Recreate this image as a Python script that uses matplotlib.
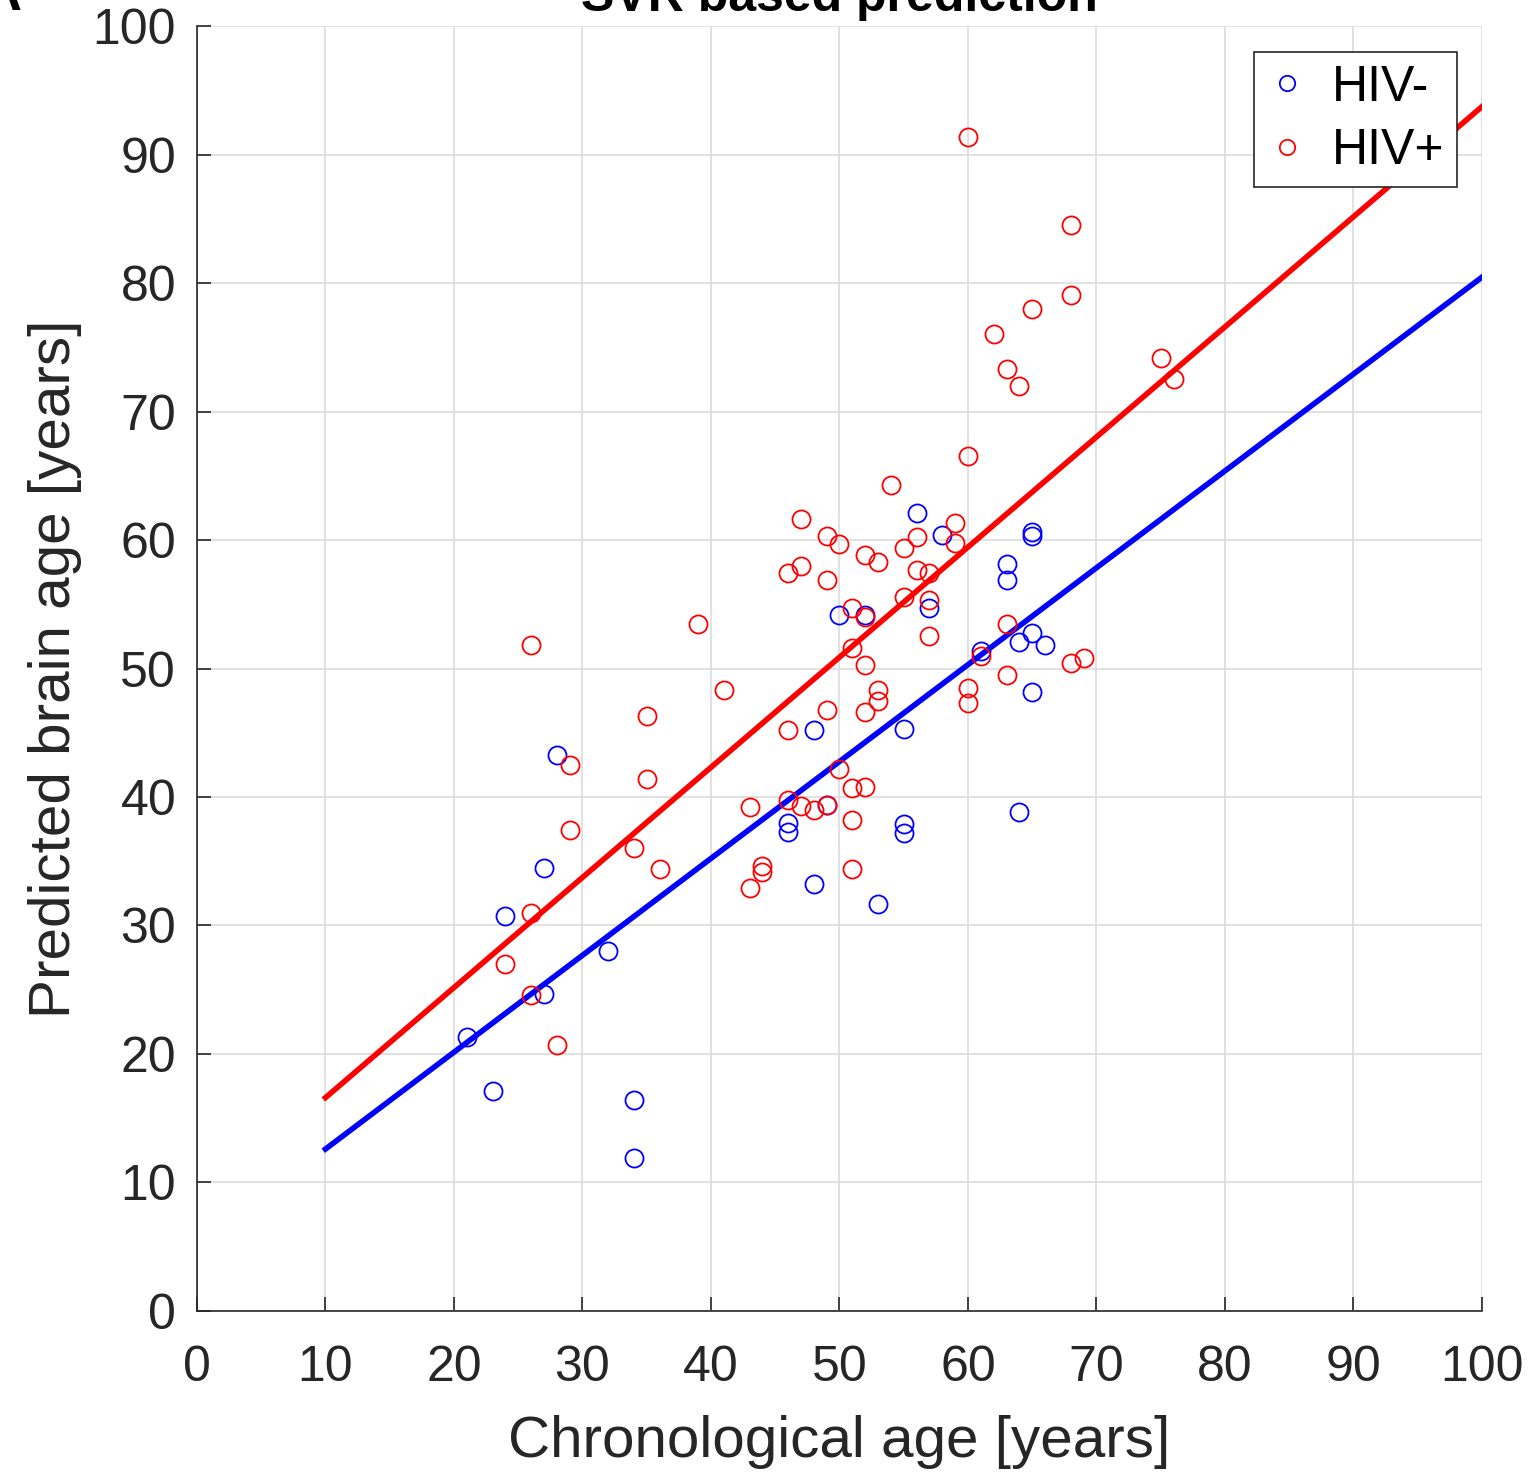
import matplotlib
matplotlib.use('Agg')
import matplotlib.pyplot as plt
import numpy as np

plt.rcParams['font.family'] = ['Liberation Sans', 'DejaVu Sans']

# HIV- (controls): chronological age, predicted brain age
neg_age = [56, 58, 65, 65, 63, 63, 50, 52, 57, 64, 65, 66, 61, 65, 48, 55, 28,
           49, 46, 46, 55, 55, 64, 27, 48, 53, 24, 32, 27, 21, 23, 34, 34]
neg_pred = [62.1, 60.4, 60.6, 60.3, 58.1, 56.9, 54.2, 54.2, 54.7, 52.1, 52.8, 51.8,
            51.4, 48.2, 45.2, 45.3, 43.3, 39.4, 38.0, 37.3, 37.9, 37.2, 38.8, 34.5,
            33.2, 31.7, 30.7, 28.0, 24.7, 21.3, 17.1, 16.4, 11.9]

# HIV+ (patients)
pos_age = [60, 68, 68, 65, 62, 63, 64, 75, 76, 60, 54, 47, 59, 49, 50, 56, 59, 55,
           52, 53, 47, 46, 56, 57, 49, 55, 57, 51, 52, 39, 63, 26, 57, 51, 61, 52,
           68, 69, 63, 41, 53, 53, 60, 60, 49, 52, 35, 46, 29, 35, 50, 46, 47, 43,
           48, 49, 51, 52, 51, 29, 34, 44, 44, 36, 51, 43, 26, 24, 26, 28]
pos_pred = [91.4, 84.5, 79.1, 78.0, 76.0, 73.3, 72.0, 74.2, 72.5, 66.5, 64.3, 61.6,
            61.3, 60.3, 59.7, 60.2, 59.8, 59.4, 58.8, 58.3, 58.0, 57.4, 57.7, 57.4,
            56.9, 55.6, 55.3, 54.7, 54.0, 53.5, 53.5, 51.8, 52.5, 51.6, 51.0, 50.3,
            50.4, 50.8, 49.5, 48.3, 48.3, 47.5, 48.5, 47.3, 46.8, 46.6, 46.3, 45.2,
            42.5, 41.4, 42.2, 39.8, 39.3, 39.2, 39.0, 39.4, 40.7, 40.8, 38.2, 37.4,
            36.0, 34.6, 34.2, 34.4, 34.4, 32.9, 31.0, 27.0, 24.6, 20.7]

# linear fits (slope, intercept) drawn over the age range
fit_range = [10, 100]
neg_fit = (0.754, 5.06)
pos_fit = (0.857, 8.03)

fig = plt.figure(figsize=(15.34, 14.72), dpi=100)
ax = fig.add_axes([0.1284, 0.1094, 0.8377, 0.8729])

xs = np.array(fit_range)
ax.plot(xs, neg_fit[0] * xs + neg_fit[1], color='#0000ff', lw=4, zorder=3)
ax.plot(xs, pos_fit[0] * xs + pos_fit[1], color='#ff0000', lw=4, zorder=3)

ax.plot(neg_age, neg_pred, 'o', mfc='none', mec='#0000ff', ms=13, mew=1.3,
        label='HIV-', zorder=4)
ax.plot(pos_age, pos_pred, 'o', mfc='none', mec='#ff0000', ms=13, mew=1.3,
        label='HIV+', zorder=4)

ax.set_xlim(0, 100)
ax.set_ylim(0, 100)
ax.set_xticks(range(0, 101, 10))
ax.set_yticks(range(0, 101, 10))
ax.grid(True, color='#dcdcdc', lw=1.2)
ax.set_axisbelow(True)
for s in ['top', 'right']:
    ax.spines[s].set_visible(False)
for s in ['left', 'bottom']:
    ax.spines[s].set_linewidth(1.2)
    ax.spines[s].set_color('#262626')
ax.tick_params(direction='in', length=10, width=1.2, labelsize=36,
               colors='#262626', labelcolor='#262626')
ax.tick_params(axis='x', pad=24.5)
ax.tick_params(axis='y', pad=15)

ax.set_xlabel('Chronological age [years]', fontsize=42, color='#262626', labelpad=17)
ax.set_ylabel('Predicted brain age [years]', fontsize=42, color='#262626', labelpad=8)

leg = ax.legend(loc='upper right', bbox_to_anchor=(0.9805, 0.9798), borderaxespad=0,
                fontsize=36, markerscale=0.85, handlelength=0.8, handletextpad=0.5,
                borderpad=0.25, labelspacing=0.35, fancybox=False, framealpha=1)
leg.get_frame().set_edgecolor('#262626')
leg.get_frame().set_linewidth(1.2)

# title and panel letter, clipped at the top as in the source figure
fig.text(0.547, 1 - 11 / 1472, 'SVR based prediction', fontsize=36,
         fontweight='bold', ha='center', va='baseline')
fig.text(-0.012, 1 - 10 / 1472, 'A', fontsize=40, fontweight='bold',
         ha='left', va='baseline')

fig.savefig('out.png', dpi=100)
